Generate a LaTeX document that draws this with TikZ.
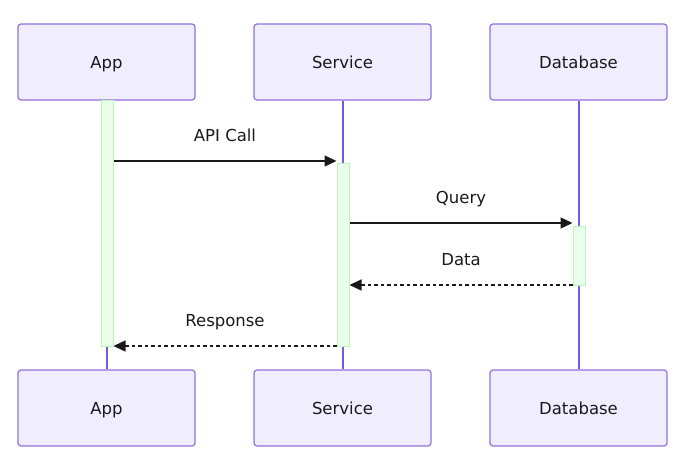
\documentclass[tikz,border=0pt]{standalone}
\usepackage{fontspec}
\setmainfont{DejaVu Sans}
\definecolor{actorfill}{RGB}{240, 237, 255}
\definecolor{actorline}{RGB}{147, 112, 219}
\definecolor{lifeline}{RGB}{112, 90, 235}
\definecolor{actfill}{RGB}{234, 255, 234}
\definecolor{actline}{RGB}{190, 245, 190}
\definecolor{msgline}{RGB}{25, 25, 25}
\usetikzlibrary{arrows.meta, positioning, calc}

\begin{document}
\begin{tikzpicture}[
  x=1pt, y=-1pt,
  actor/.style={draw=actorline, fill=actorfill, line width=1.2pt, rounded corners=3pt, minimum width=177pt, minimum height=76pt, text height=14pt, text depth=2pt, font=\fontsize{16.5}{20}\selectfont, text=msgline},
  life/.style={draw=lifeline, line width=2pt},
  actbar/.style={draw=actline, fill=actfill, line width=1pt, minimum width=12pt, inner sep=0pt},
  msg/.style={draw=msgline, line width=1.4pt, -{Triangle[length=12pt, width=11pt]}},
  reply/.style={msg, dash pattern=on 3.5pt off 3pt},
  lbl/.style={font=\fontsize{16.5}{20}\selectfont, text=msgline, text height=14pt, text depth=2pt, yshift=26pt}
]
  \useasboundingbox (0,0) rectangle (696,461);

  \node[actor] (app) at (106.5, 62) {App};
  \node[actor] (svc) at (342.5, 62) {Service};
  \node[actor] (db) at (578.5, 62) {Database};
  \node[actor] (appB) at (106.5, 408) {App};
  \node[actor] (svcB) at (342.5, 408) {Service};
  \node[actor] (dbB) at (578.5, 408) {Database};

  \draw[life] (app.south) -- (appB.north);
  \draw[life] (svc.south) -- (svcB.north);
  \draw[life] (db.south) -- (dbB.north);

  \node[actbar, minimum height=246pt] (appAct) at (107, 223) {};
  \node[actbar, minimum height=183pt] (svcAct) at (343, 254.5) {};
  \node[actbar, minimum height=59pt] (dbAct) at (579, 255.5) {};

  \coordinate (m1) at (0, 161);
  \coordinate (m2) at (0, 223);
  \coordinate (m3) at (0, 285);
  \coordinate (m4) at (0, 346);

  \draw[msg] (appAct.east |- m1) -- node[lbl] {API Call} (svcAct.west |- m1);
  \draw[msg] (svcAct.east |- m2) -- node[lbl] {Query} (dbAct.west |- m2);
  \draw[reply] (dbAct.west |- m3) -- node[lbl] {Data} (svcAct.east |- m3);
  \draw[reply] (svcAct.west |- m4) -- node[lbl] {Response} (appAct.east |- m4);
\end{tikzpicture}
\end{document}
